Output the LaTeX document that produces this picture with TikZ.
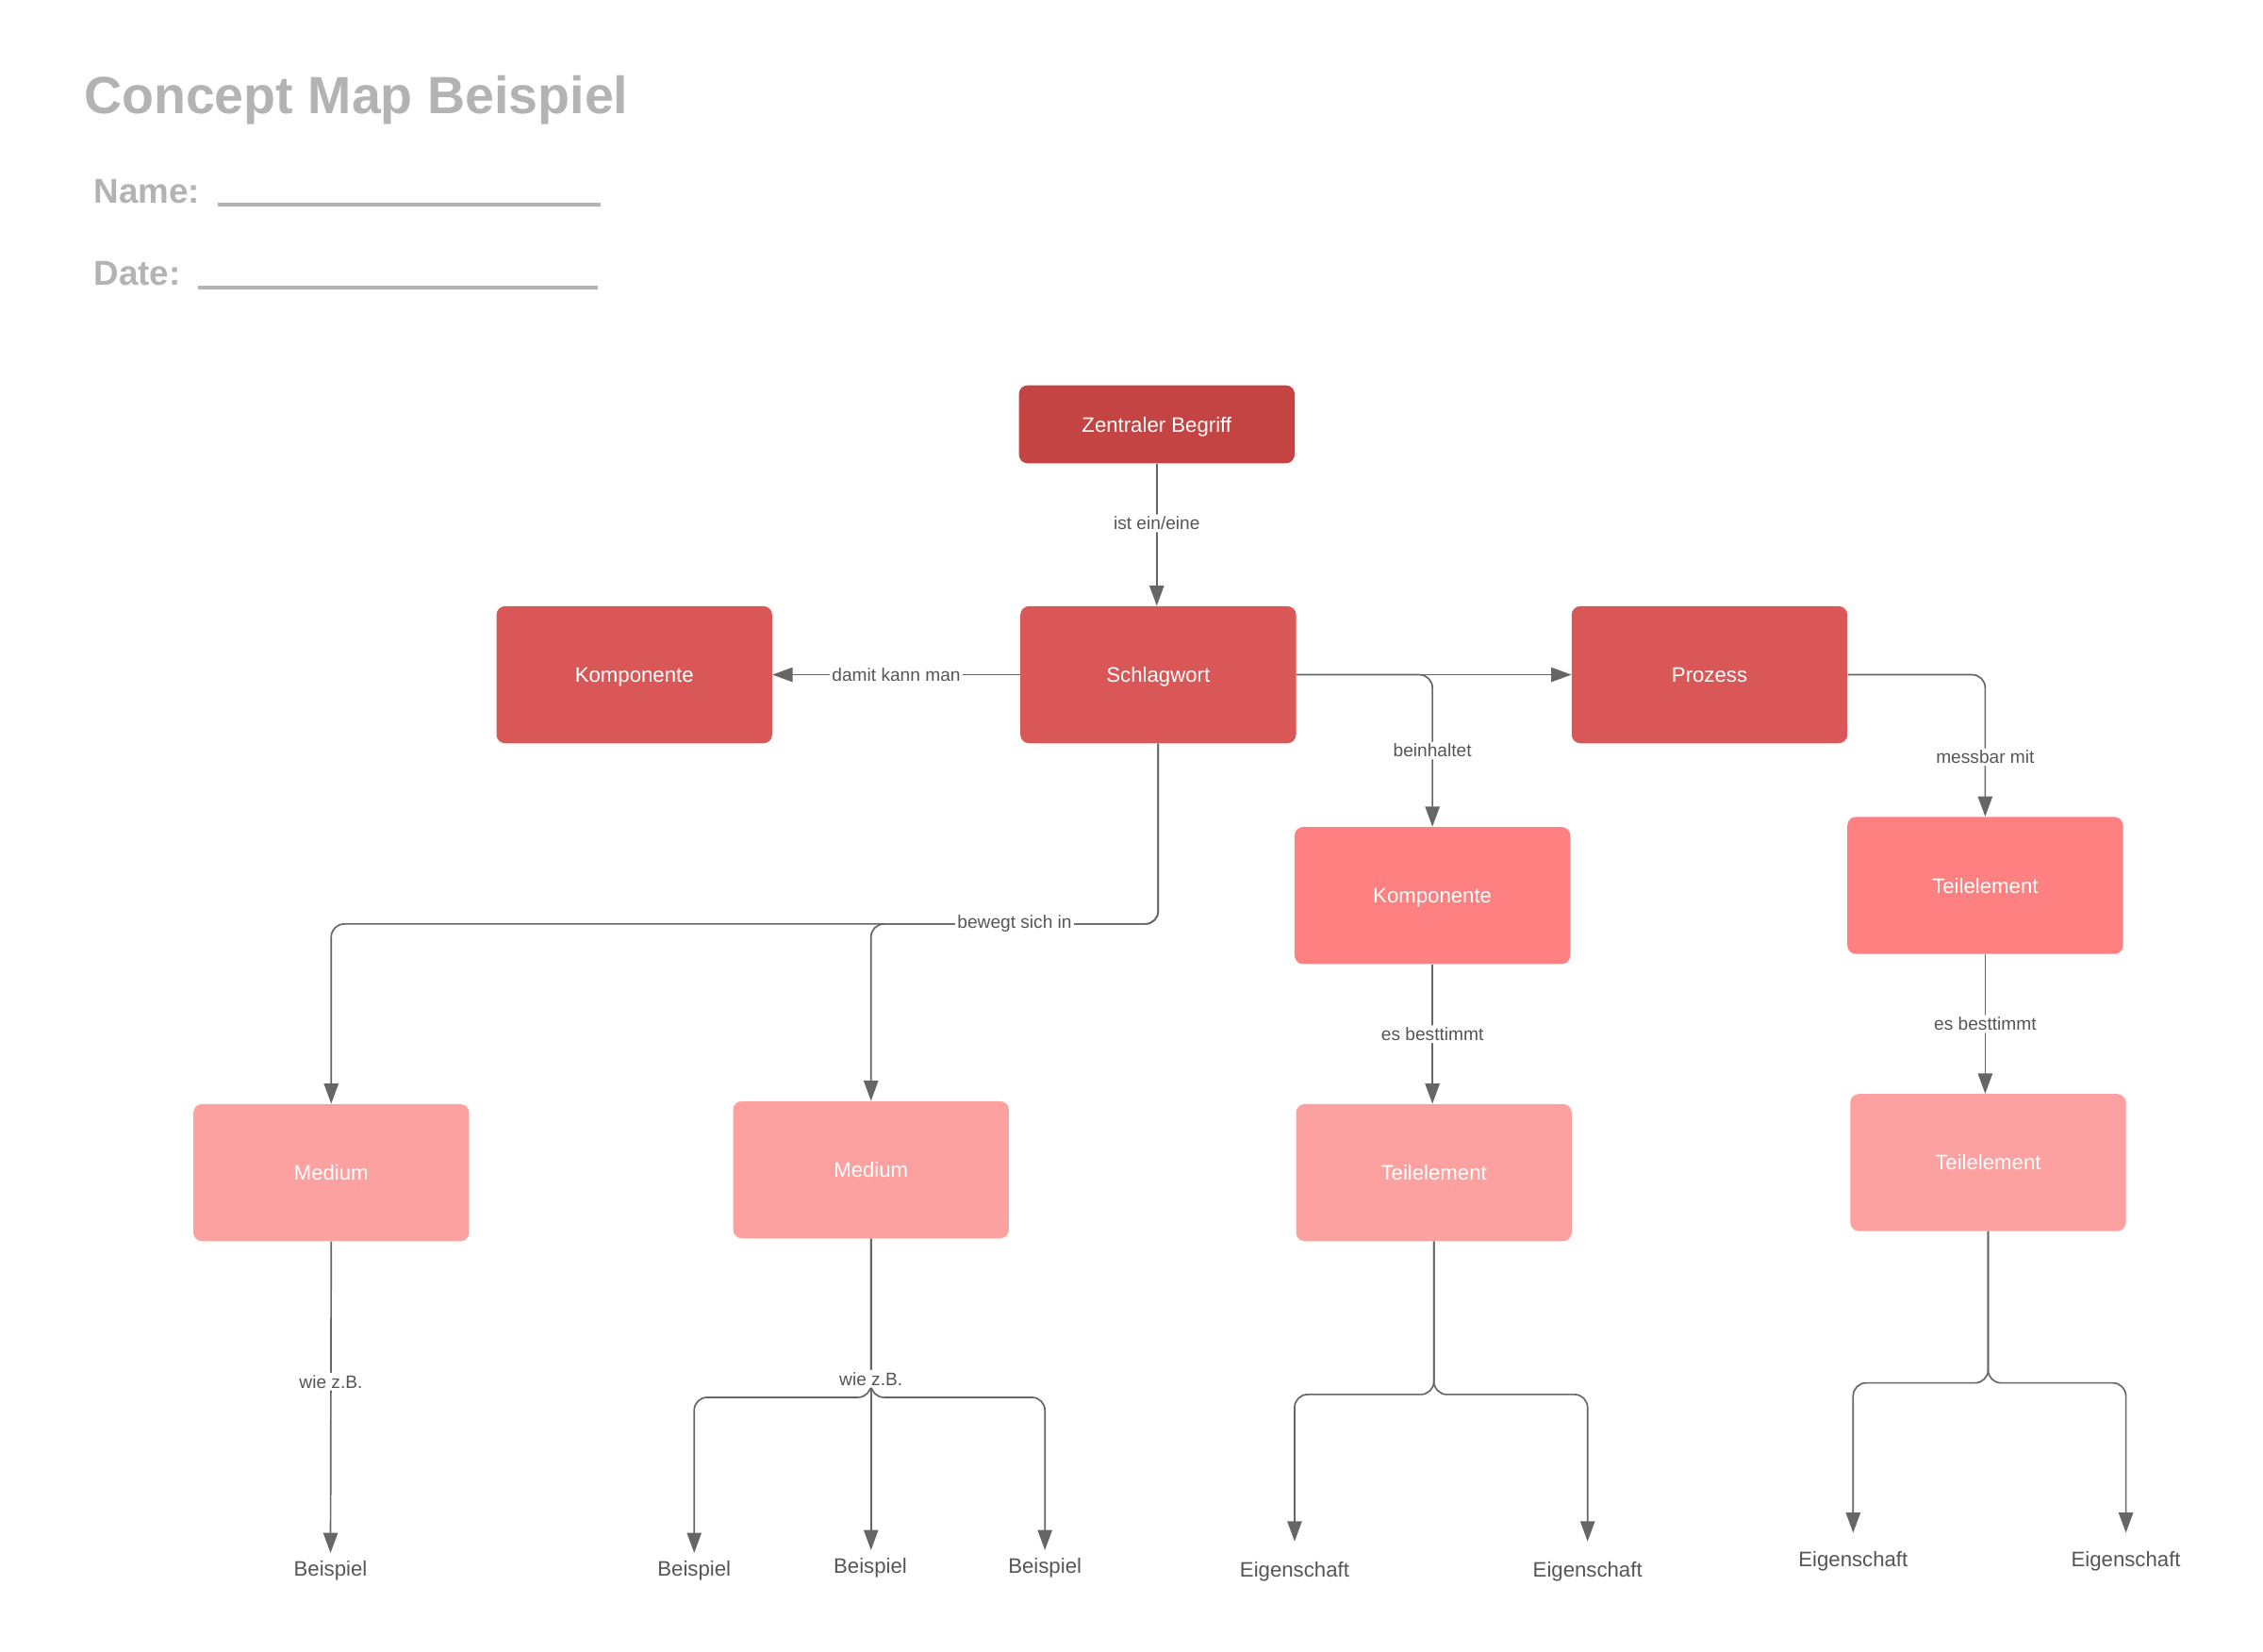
\documentclass[tikz,border=0pt]{standalone}
\usepackage{fontspec}
\setmainfont{Liberation Sans}
\usepackage{xcolor}
\usetikzlibrary{arrows.meta}

\definecolor{zentral}{HTML}{C44343}
\definecolor{ebeneA}{HTML}{D95757}
\definecolor{ebeneB}{HTML}{FF8080}
\definecolor{ebeneC}{HTML}{FDA0A0}
\definecolor{linie}{HTML}{666666}
\definecolor{titelgrau}{HTML}{B3B3B3}
\definecolor{schrift}{HTML}{555555}

\begin{document}
\begin{tikzpicture}[x=1pt,y=-1pt,
  begriff/.style={rounded corners=6pt, minimum width=191pt, minimum height=95pt, inner sep=0pt,
    text height=10.5pt, text depth=0pt, text=white, font=\fontsize{14.5}{17}\selectfont},
  conn/.style={draw=linie, line width=1.1pt, -{Triangle[length=14pt,width=10pt]}, rounded corners=9pt},
  lbl/.style={fill=white, text=schrift, inner sep=1.5pt, font=\fontsize{12.5}{15}\selectfont},
  ende/.style={text=schrift, inner sep=5pt, font=\fontsize{14.5}{17}\selectfont},
  kopf/.style={anchor=base west, inner sep=0pt, text=titelgrau}]
\useasboundingbox (0,0) rectangle (1568,1144.6);

% Kopf
\node[kopf, font=\bfseries\fontsize{36.3}{40}\selectfont] (titel) at (58,79) {Concept Map Beispiel};
\node[kopf, font=\bfseries\fontsize{24}{28}\selectfont] (name) at (65,140.5) {Name:};
\node[kopf, font=\bfseries\fontsize{24}{28}\selectfont] (datum) at (65,197.5) {Date:};
\draw[titelgrau, line width=2.6pt] (151,141.5) -- (416,141.5);
\draw[titelgrau, line width=2.6pt] (137,199) -- (414,199);

% Begriffe
\node[begriff, fill=zentral, minimum height=54pt] (zentral) at (801.5,294) {Zentraler Begriff};
\node[begriff, fill=ebeneA] (schlag) at (802.5,467.5) {Schlagwort};
\node[begriff, fill=ebeneA] (kompL) at (439.5,467.5) {Komponente};
\node[begriff, fill=ebeneA] (prozess) at (1184.5,467.5) {Prozess};
\node[begriff, fill=ebeneB] (kompM) at (992.5,620.5) {Komponente};
\node[begriff, fill=ebeneB] (teilR) at (1375.5,613.5) {Teilelement};
\node[begriff, fill=ebeneC] (mediumA) at (229.5,812.5) {Medium};
\node[begriff, fill=ebeneC] (mediumB) at (603.5,810.5) {Medium};
\node[begriff, fill=ebeneC] (teilM) at (993.5,812.5) {Teilelement};
\node[begriff, fill=ebeneC] (teilRR) at (1377.5,805.5) {Teilelement};

% Beispiele und Eigenschaften
\node[ende] (bspA) at (229,1088) {Beispiel};
\node[ende] (bspB) at (481,1088) {Beispiel};
\node[ende] (bspC) at (603,1086) {Beispiel};
\node[ende] (bspD) at (724,1086) {Beispiel};
\node[ende] (eigA) at (897,1089) {Eigenschaft};
\node[ende] (eigB) at (1100,1089) {Eigenschaft};
\node[ende] (eigC) at (1284,1082) {Eigenschaft};
\node[ende] (eigD) at (1473,1082) {Eigenschaft};

% Verbindungen
\draw[conn] (zentral.south) -- node[lbl, pos=0.42] {ist ein/eine} (zentral.south |- schlag.north);
\draw[conn] (schlag.west) -- node[lbl] {damit kann man} (kompL.east);
\draw[conn] (schlag.east) -- (prozess.west);
\draw[conn] (schlag.east) -| node[lbl, pos=0.75] {beinhaltet} (kompM.north);
\draw[conn] (prozess.east) -| node[lbl, pos=0.79] {messbar mit} (teilR.north);
\draw[conn] (schlag.south) -- ++(0,125) -| (mediumA.north);
\draw[conn] (schlag.south) -- ++(0,125) -| node[lbl, pos=0.25] {bewegt sich in} (mediumB.north);
\draw[conn] (kompM.south) -- node[lbl] {es besttimmt} (kompM.south |- teilM.north);
\draw[conn] (teilR.south) -- node[lbl] {es besttimmt} (teilR.south |- teilRR.north);

\draw[conn] (mediumA.south) -- node[lbl, pos=0.45] {wie z.B.} (bspA.north);
\draw[conn] (mediumB.south) -- ++(0,110) -| (bspB.north);
\draw[conn] (mediumB.south) -- ++(0,110) -| (bspD.north);
\draw[conn] (mediumB.south) -- node[lbl, pos=0.45] {wie z.B.} (mediumB.south |- bspC.north);

\draw[conn, shorten >=9pt] (teilM.south) -- ++(0,106) -| (eigA.north);
\draw[conn, shorten >=9pt] (teilM.south) -- ++(0,106) -| (eigB.north);
\draw[conn, shorten >=8pt] (teilRR.south) -- ++(0,105) -| (eigC.north);
\draw[conn, shorten >=8pt] (teilRR.south) -- ++(0,105) -| (eigD.north);
\end{tikzpicture}
\end{document}
